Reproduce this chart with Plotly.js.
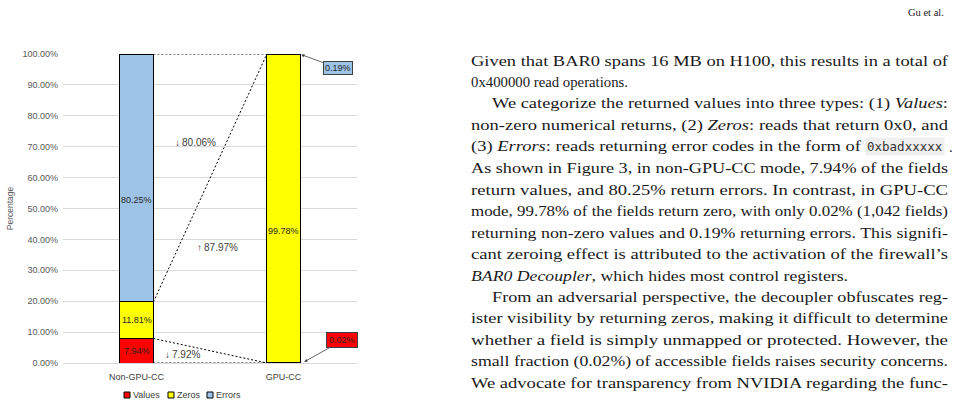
<!DOCTYPE html>
<html>
<head>
<meta charset="utf-8">
<script src="https://cdn.plot.ly/plotly-3.0.1.min.js"></script>
<style>
  html, body { margin: 0; padding: 0; background: #ffffff; }
  #chart { width: 960px; height: 406px; }
</style>
</head>
<body>
<div id="chart"></div>
<script>
// ---------------- DATA ----------------
const categories = ['Non-GPU-CC', 'GPU-CC'];
const seriesNames = ['Values', 'Zeros', 'Errors'];
const valuesPct = [7.94, 0.02];
const zerosPct = [11.81, 99.78];
const errorsPct = [80.25, 0.19];
const yAxisTitle = 'Percentage';
const headerText = 'Gu et al.';
const bodyLines = [
  'Given that BAR0 spans 16 MB on H100, this results in a total of',
  '0x400000 read operations.',
  'We categorize the returned values into three types: (1) <i>Values</i>:',
  'non-zero numerical returns, (2) <i>Zeros</i>: reads that return 0x0, and',
  '(3) <i>Errors</i>: reads returning error codes in the form of',
  'As shown in Figure 3, in non-GPU-CC mode, 7.94% of the fields',
  'return values, and 80.25% return errors. In contrast, in GPU-CC',
  'mode, 99.78% of the fields return zero, with only 0.02% (1,042 fields)',
  'returning non-zero values and 0.19% returning errors. This signifi-',
  'cant zeroing effect is attributed to the activation of the firewall\u2019s',
  '<i>BAR0 Decoupler</i>, which hides most control registers.',
  'From an adversarial perspective, the decoupler obfuscates reg-',
  'ister visibility by returning zeros, making it difficult to determine',
  'whether a field is simply unmapped or protected. However, the',
  'small fraction (0.02%) of accessible fields raises security concerns.',
  'We advocate for transparency from NVIDIA regarding the func-'
];
const codeText = '0xbadxxxxx';

// ---------------- LAYOUT / STYLE ----------------
const indentedLines = [2, 11];
const lineRightEdge = [null, 628, null, null, 861, null, null, null, null, null, 848];
const textLeft = 471, textIndent = 492, textRight = 948;
const lineTop = 61, lineH = 21.45;

const colors = ['#ff0000', '#ffff00', '#9dc3e6'];
const barWidth = 0.23;
const sans = 'Liberation Sans, Arial, sans-serif';
const serif = 'Liberation Serif, Times New Roman, serif';
const M = {l: 63, r: 603, t: 54, b: 43};
const W = 960, H = 406;
const PW = W - M.l - M.r, PH = H - M.t - M.b;
const px2x = px => (px - M.l) / PW;
const py2y = py => (H - M.b - py) / PH;

const series = [valuesPct, zerosPct, errorsPct];
const xs = categories.map((c, i) => i);

const traces = series.map((vals, k) => ({
  type: 'bar',
  name: seriesNames[k],
  x: xs,
  y: vals,
  width: barWidth,
  marker: {color: colors[k], line: {color: '#000000', width: 1}},
  showlegend: false,
  hoverinfo: 'none'
}));

const fmt = v => v.toFixed(2) + '%';
const annotations = [];
const shapes = [];

// labels inside the segments that are large enough (tall ones sit lower, as in the source)
categories.forEach((c, i) => {
  let base = 0;
  series.forEach((vals, k) => {
    const v = vals[i];
    if (v >= 1) {
      annotations.push({
        x: i, y: base + v / 2, xref: 'x', yref: 'y', text: fmt(v), showarrow: false,
        yshift: v > 50 ? -22 : 0,
        font: {family: sans, size: 9, color: '#262626'}
      });
    }
    base += v;
  });
});

// callouts for the tiny GPU-CC segments
const half = barWidth / 2;
annotations.push({
  x: 1 + half, y: 100 - errorsPct[1] / 2, xref: 'x', yref: 'y',
  ax: 1.374, ay: 95.4, axref: 'x', ayref: 'y',
  text: fmt(errorsPct[1]), showarrow: true, arrowhead: 2, arrowsize: 0.8, arrowwidth: 0.8,
  arrowcolor: '#404040', standoff: 1,
  bgcolor: colors[2], bordercolor: '#404040', borderwidth: 1, borderpad: 1,
  font: {family: sans, size: 9, color: '#262626'}
});
annotations.push({
  x: 1 + half + 0.02, y: valuesPct[1] / 2 + 0.2, xref: 'x', yref: 'y',
  ax: 1.401, ay: 7.3, axref: 'x', ayref: 'y',
  text: fmt(valuesPct[1]), showarrow: true, arrowhead: 2, arrowsize: 0.8, arrowwidth: 0.8,
  arrowcolor: '#404040', standoff: 1,
  bgcolor: colors[0], bordercolor: '#404040', borderwidth: 1, borderpad: 2,
  font: {family: sans, size: 9, color: '#262626'}
});

// change annotations between the two modes
const dErr = errorsPct[0] - errorsPct[1];
const dZero = zerosPct[1] - zerosPct[0];
const dVal = valuesPct[0] - valuesPct[1];
const chFont = {family: sans, size: 10, color: '#404040'};
annotations.push({x: 0.40, y: 71.5, xref: 'x', yref: 'y', showarrow: false,
  text: '\u2193\u2009' + fmt(dErr), font: chFont});
annotations.push({x: 0.55, y: 37.3, xref: 'x', yref: 'y', showarrow: false,
  text: '\u2191\u2009' + fmt(dZero), font: chFont});
annotations.push({x: 0.31, y: 2.9, xref: 'x', yref: 'y', showarrow: false,
  text: '\u2193\u2009' + fmt(dVal), font: chFont});

// dashed connectors
const dash = '2px,2px';
const seg = (y0, y1) => ({type: 'line', xref: 'x', yref: 'y', x0: half, x1: 1 - half, y0: y0, y1: y1,
  line: {color: '#000000', width: 1, dash: dash}});
shapes.push(seg(100, 100));
shapes.push(seg(valuesPct[0] + zerosPct[0], valuesPct[1] + zerosPct[1]));
shapes.push(seg(valuesPct[0], valuesPct[1]));
shapes.push(seg(0, 0));

// compact legend with small bordered squares
const legendX = [124, 168, 207];
const legendY = 395;
seriesNames.forEach((n, k) => {
  shapes.push({type: 'rect', xref: 'paper', yref: 'paper',
    x0: px2x(legendX[k]), x1: px2x(legendX[k] + 6), y0: py2y(legendY + 3), y1: py2y(legendY - 3),
    fillcolor: colors[k], line: {color: '#000000', width: 1}});
  annotations.push({xref: 'paper', yref: 'paper', x: px2x(legendX[k] + 7), y: py2y(legendY),
    xanchor: 'left', yanchor: 'middle', showarrow: false, text: n,
    font: {family: sans, size: 9, color: '#404040'}});
});

// page header and body text
annotations.push({xref: 'paper', yref: 'paper', x: px2x(946), y: py2y(13), xanchor: 'right', yanchor: 'middle',
  showarrow: false, text: headerText, font: {family: serif, size: 10.5, color: '#1a1a1a'}});
const bodyStartIdx = annotations.length;
bodyLines.forEach((t, i) => {
  const left = indentedLines.includes(i) ? textIndent : textLeft;
  annotations.push({xref: 'paper', yref: 'paper', x: px2x(left - 2), y: py2y(lineTop + i * lineH),
    xanchor: 'left', yanchor: 'middle', align: 'left', showarrow: false, text: t,
    font: {family: serif, size: 14.5, color: '#1a1a1a'}});
});
annotations.push({xref: 'paper', yref: 'paper', x: px2x(865), y: py2y(lineTop + 4 * lineH), xanchor: 'left', yanchor: 'middle',
  showarrow: false, text: codeText, bgcolor: '#efefef', borderpad: 1,
  font: {family: 'DejaVu Sans Mono, monospace', size: 12.5, color: '#333333'}});
annotations.push({xref: 'paper', yref: 'paper', x: px2x(947), y: py2y(lineTop + 4 * lineH), xanchor: 'left', yanchor: 'middle',
  showarrow: false, text: '.', font: {family: serif, size: 14.5, color: '#1a1a1a'}});

const layout = {
  width: W, height: H,
  margin: M,
  paper_bgcolor: '#ffffff', plot_bgcolor: '#ffffff',
  barmode: 'stack',
  showlegend: false,
  xaxis: {range: [-0.5, 1.5], tickvals: xs, ticktext: categories, showgrid: false, zeroline: false,
    showline: false, ticks: '', ticklabelstandoff: 7, automargin: false,
    tickfont: {family: sans, size: 9, color: '#404040'}, fixedrange: true},
  yaxis: {range: [0, 100], dtick: 10, tickformat: '.2f', ticksuffix: '%', gridcolor: '#d9d9d9', gridwidth: 1,
    zeroline: true, zerolinecolor: '#d9d9d9', zerolinewidth: 1, showline: false, ticks: '', automargin: false,
    ticklabelstandoff: 4,
    tickfont: {family: sans, size: 9, color: '#595959'},
    title: {text: yAxisTitle, font: {family: sans, size: 8.5, color: '#595959'}, standoff: 7}, fixedrange: true},
  annotations: annotations,
  shapes: shapes
};

// justify each body line to its measured extent in the source page
function justify(gd) {
  const chartLeft = gd.getBoundingClientRect().left;
  const groups = Array.from(gd.querySelectorAll('g.annotation'));
  bodyLines.forEach((t, i) => {
    const idx = bodyStartIdx + i;
    const grp = groups.find(g => g.getAttribute('data-index') === String(idx));
    const el = grp ? grp.querySelector('text.annotation-text') : null;
    if (!el) return;
    el.removeAttribute('textLength');
    const r = el.getBoundingClientRect();
    const right = lineRightEdge[i] || textRight;
    const target = right - (r.left - chartLeft);
    el.setAttribute('textLength', target.toFixed(1));
    el.setAttribute('lengthAdjust', 'spacingAndGlyphs');
  });
}

Plotly.newPlot('chart', traces, layout, {displayModeBar: false, staticPlot: true}).then(gd => {
  justify(gd);
});
</script>
</body>
</html>
